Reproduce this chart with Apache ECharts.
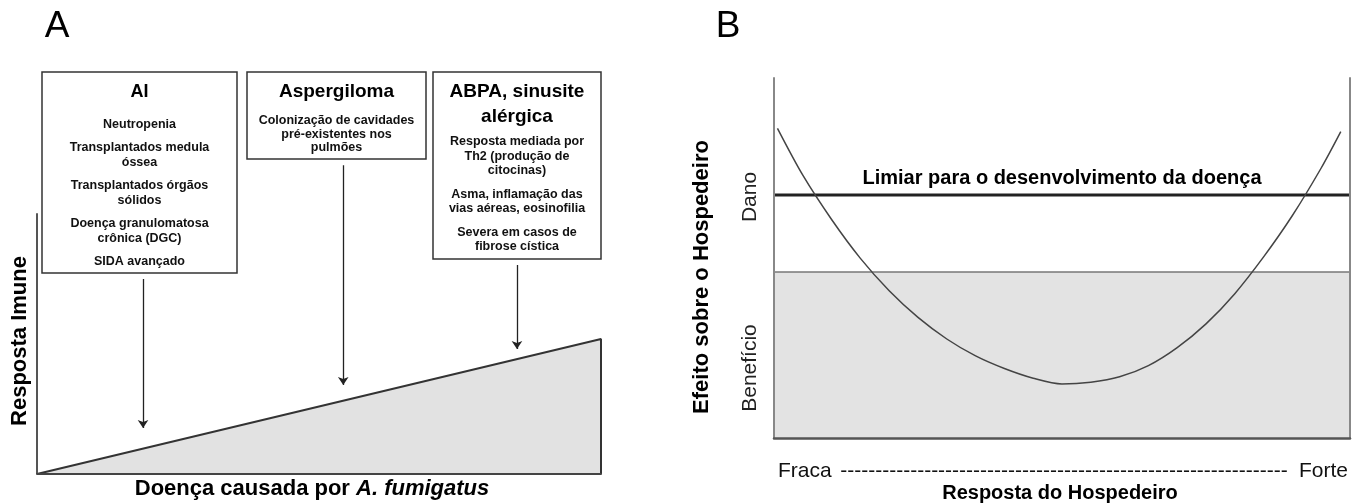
<!DOCTYPE html>
<html><head><meta charset="utf-8">
<script src="https://cdn.jsdelivr.net/npm/echarts@6/dist/echarts.min.js"></script>
<style>html,body{margin:0;padding:0;background:#fff}#c{width:1362px;height:504px}</style>
</head><body><div id="c"></div>
<script>
// ---------- Panel A data ----------
const aTriangleX = [0, 100, 100];
const aTriangleY = [0, 32.6, 0];
const aAxisX = [0, 0];
const aAxisY = [0, 63];
const aArrowX = [18.8, 54.3, 85.1];
const aArrowFrom = [47.1, 74.6, 50.5];
const aArrowTo = [11.1, 21.5, 30.2];
const aYName = 'Resposta Imune';
const aXName = 'Doença causada por ';
const aXNameItalic = 'A. fumigatus';
const boxTitles = [['AI'], ['Aspergiloma'], ['ABPA, sinusite', 'alérgica']];
const boxItems = [
  [['Neutropenia'], ['Transplantados medula', 'óssea'], ['Transplantados órgãos', 'sólidos'], ['Doença granulomatosa', 'crônica (DGC)'], ['SIDA avançado']],
  [['Colonização de cavidades', 'pré-existentes nos', 'pulmões']],
  [['Resposta mediada por', 'Th2 (produção de', 'citocinas)'], ['Asma, inflamação das', 'vias aéreas, eosinofilia'], ['Severa em casos de', 'fibrose cística']]
];

// ---------- Panel B data ----------
const bCurveX = [0.6, 5, 10, 15, 20, 25, 30, 35, 40, 45, 50, 55, 60, 65, 70, 75, 80, 85, 90, 95, 98.4];
const bCurveY = [86.0, 73.0, 60.7, 49.9, 40.9, 33.5, 27.5, 22.8, 19.3, 16.6, 15.0, 15.5, 17.0, 20.1, 25.1, 31.7, 40.1, 50.3, 61.8, 75.0, 85.1];
const bThreshold = 67.5;
const bBenefitTop = 46.1;
const bRangeX = [0, 100];
const bSideLabels = ['Dano', 'Benefício'];
const bEndLabels = ['Fraca', 'Forte'];
const bThresholdLabel = 'Limiar para o desenvolvimento da doença';
const bYName = 'Efeito sobre o Hospedeiro';
const bXName = 'Resposta do Hospedeiro';
const panelLabels = ['A', 'B'];

// ---------- layout (styles / positions) ----------
const FONT = '"Liberation Sans", Arial, sans-serif';
const boxLayout = [
  {x: 42, y: 72, w: 195, h: 201, titleY: 92, titleStep: 24, itemY: 125, step: 15, gap: 23},
  {x: 247, y: 72, w: 179, h: 87, titleY: 92, titleStep: 24, itemY: 121, step: 13.2, gap: 23},
  {x: 433, y: 72, w: 168, h: 187, titleY: 92, titleStep: 24.3, itemY: 142, step: 14.5, gap: 23.5}
];

function txt(text, x, y, size, weight, opts) {
  opts = opts || {};
  return {
    type: 'text', x: x, y: y, rotation: opts.rot || 0, z: 10,
    style: {
      text: text, fontSize: size, fontWeight: weight, fontFamily: FONT,
      fill: opts.fill || '#111',
      align: opts.align || 'center', textAlign: opts.align || 'center',
      verticalAlign: 'middle', textVerticalAlign: 'middle',
      rich: opts.rich
    }
  };
}

const graphics = [];
boxLayout.forEach(function (L, i) {
  graphics.push({type: 'rect', z: 9, shape: {x: L.x, y: L.y, width: L.w, height: L.h},
    style: {fill: '#fff', stroke: '#333', lineWidth: 1.5}});
  const cx = L.x + L.w / 2;
  boxTitles[i].forEach(function (t, j) {
    graphics.push(txt(t, cx, L.titleY + j * L.titleStep, i === 0 ? 18 : 19, 'bold', {fill: '#000'}));
  });
  let y = L.itemY;
  boxItems[i].forEach(function (grp, g) {
    if (g > 0) y += L.gap - L.step;
    grp.forEach(function (line) {
      graphics.push(txt(line, cx, y, 12.5, 'bold'));
      y += L.step;
    });
  });
});
graphics.push(txt(panelLabels[0], 57, 27, 37, 'normal', {fill: '#000'}));
graphics.push(txt(panelLabels[1], 728, 27, 37, 'normal', {fill: '#000'}));
graphics.push(txt(aYName, 20, 341, 22, 'bold', {rot: Math.PI / 2, fill: '#000'}));
graphics.push(txt(aXName + '{i|' + aXNameItalic + '}', 312, 489, 22, 'bold', {fill: '#000',
  rich: {i: {fontStyle: 'italic', fontWeight: 'bold', fontSize: 22, fontFamily: FONT, fill: '#000'}}}));
graphics.push(txt(bYName, 702, 277, 22, 'bold', {rot: Math.PI / 2, fill: '#000'}));
graphics.push(txt(bSideLabels[0], 750, 197, 21, 'normal', {rot: Math.PI / 2, fill: '#222'}));
graphics.push(txt(bSideLabels[1], 750, 368, 21, 'normal', {rot: Math.PI / 2, fill: '#222'}));
graphics.push(txt(bThresholdLabel, 1062, 178, 20, 'bold', {fill: '#000'}));
graphics.push(txt(bEndLabels[0], 778, 471, 21, 'normal', {align: 'left', fill: '#111'}));
graphics.push(txt(bEndLabels[1], 1348, 471, 21, 'normal', {align: 'right', fill: '#111'}));
graphics.push(txt('----------------------------------------------------------------', 1064, 471, 21, 'normal', {fill: '#111'}));
graphics.push(txt(bXName, 1060, 493, 20, 'bold', {fill: '#000'}));

function zip(xs, ys) { return xs.map(function (x, i) { return [x, ys[i]]; }); }

const hiddenAxis = {show: true, axisLine: {show: false}, axisTick: {show: false}, axisLabel: {show: false}, splitLine: {show: false}};

const option = {
  animation: false,
  backgroundColor: '#fff',
  grid: [
    {left: 37, top: 60, width: 564, height: 414},
    {left: 774, top: 78, width: 576, height: 360}
  ],
  xAxis: [
    Object.assign({}, hiddenAxis, {type: 'value', gridIndex: 0, min: 0, max: 100, z: 5,
      axisLine: {show: true, onZero: false, lineStyle: {color: '#444', width: 2}}}),
    Object.assign({}, hiddenAxis, {type: 'value', gridIndex: 1, min: bRangeX[0], max: bRangeX[1], z: 5,
      axisLine: {show: true, onZero: false, lineStyle: {color: '#555', width: 2.5}}})
  ],
  yAxis: [
    Object.assign({}, hiddenAxis, {type: 'value', gridIndex: 0, min: 0, max: 100}),
    Object.assign({}, hiddenAxis, {type: 'value', gridIndex: 1, min: 0, max: 100, z: 5,
      axisLine: {show: true, onZero: false, lineStyle: {color: '#888', width: 2}}}),
    Object.assign({}, hiddenAxis, {type: 'value', gridIndex: 1, min: 0, max: 100, position: 'right', z: 5,
      axisLine: {show: true, onZero: false, lineStyle: {color: '#888', width: 2}}})
  ],
  series: [
    {type: 'line', xAxisIndex: 0, yAxisIndex: 0, data: zip(aTriangleX, aTriangleY), symbol: 'none', clip: false,
      lineStyle: {color: '#333', width: 2}, areaStyle: {color: '#e2e2e2', opacity: 1}},
    {type: 'line', xAxisIndex: 0, yAxisIndex: 0, data: zip(aAxisX, aAxisY), symbol: 'none', clip: false,
      lineStyle: {color: '#555', width: 2}},
    {type: 'lines', coordinateSystem: 'cartesian2d', xAxisIndex: 0, yAxisIndex: 0,
      symbol: ['none', 'arrow'], symbolSize: 8,
      lineStyle: {color: '#222', width: 1.3, opacity: 1},
      data: aArrowX.map(function (x, i) { return {coords: [[x, aArrowFrom[i]], [x, aArrowTo[i]]]}; })},
    {type: 'line', xAxisIndex: 1, yAxisIndex: 1, data: zip(bRangeX, [bBenefitTop, bBenefitTop]), symbol: 'none', clip: false,
      lineStyle: {color: '#777', width: 1.5}, areaStyle: {color: '#e3e3e3', opacity: 1}},
    {type: 'line', xAxisIndex: 1, yAxisIndex: 1, data: zip(bRangeX, [bThreshold, bThreshold]), symbol: 'none', clip: false,
      lineStyle: {color: '#222', width: 3}},
    {type: 'line', xAxisIndex: 1, yAxisIndex: 1, data: zip(bCurveX, bCurveY), symbol: 'none', smooth: 0.3, clip: false,
      lineStyle: {color: '#444', width: 1.5}}
  ],
  graphic: {elements: graphics}
};
const chart = echarts.init(document.getElementById('c'), null, {renderer: 'canvas'});
chart.setOption(option);
</script></body></html>
